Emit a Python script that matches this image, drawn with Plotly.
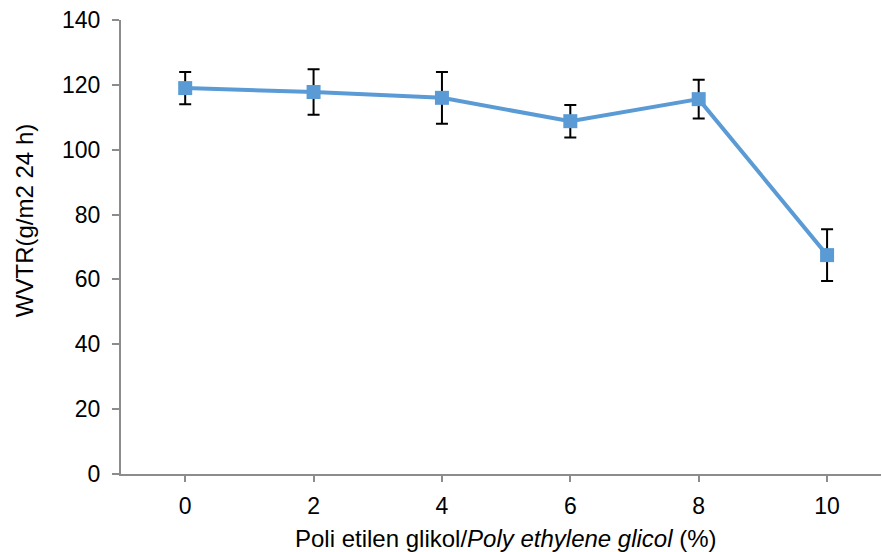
import plotly.graph_objects as go

peg = [0, 2, 4, 6, 8, 10]
wvtr = [119.0, 117.8, 116.0, 108.8, 115.6, 67.5]
err = [5.0, 7.0, 8.0, 5.0, 6.0, 8.0]
y_ticks = [0, 20, 40, 60, 80, 100, 120, 140]

fig = go.Figure()
fig.add_trace(go.Scatter(
    x=peg, y=wvtr, mode="lines+markers",
    line=dict(color="#5B9BD5", width=4),
    marker=dict(symbol="square", size=14, color="#5B9BD5"),
    error_y=dict(type="data", array=err, visible=True, color="black",
                 thickness=2, width=6),
    showlegend=False,
))

axis_color = "#8C8C8C"
font = "Liberation Sans, Arial, sans-serif"
fig.update_layout(
    width=882, height=552,
    margin=dict(l=121, r=1, t=20, b=78),
    paper_bgcolor="white", plot_bgcolor="white",
    font=dict(family=font, size=23, color="black"),
    xaxis=dict(
        range=[-1, 10.84], tickvals=peg, ticktext=[str(v) for v in peg],
        showgrid=False, zeroline=False, showline=True, linecolor=axis_color,
        linewidth=2, ticks="outside", ticklen=6, tickcolor=axis_color,
        tickwidth=2, ticklabelstandoff=4,
    ),
    yaxis=dict(
        range=[0, 140], tickvals=y_ticks,
        showgrid=False, zeroline=False, showline=True, linecolor=axis_color,
        linewidth=2, ticks="outside", ticklen=7, tickcolor=axis_color,
        tickwidth=2, ticklabelstandoff=7,
    ),
    annotations=[
        dict(text="Poli etilen glikol/<i>Poly ethylene glicol</i> (%)",
             xref="paper", yref="paper", x=0.5066, y=-0.141,
             xanchor="center", yanchor="middle", showarrow=False,
             font=dict(size=24)),
        dict(text="WVTR(g/m2 24 h)", textangle=-90,
             xref="paper", yref="paper", x=-0.1276, y=0.557,
             xanchor="center", yanchor="middle", showarrow=False,
             font=dict(size=24)),
    ],
)

fig.write_html("out.html")
